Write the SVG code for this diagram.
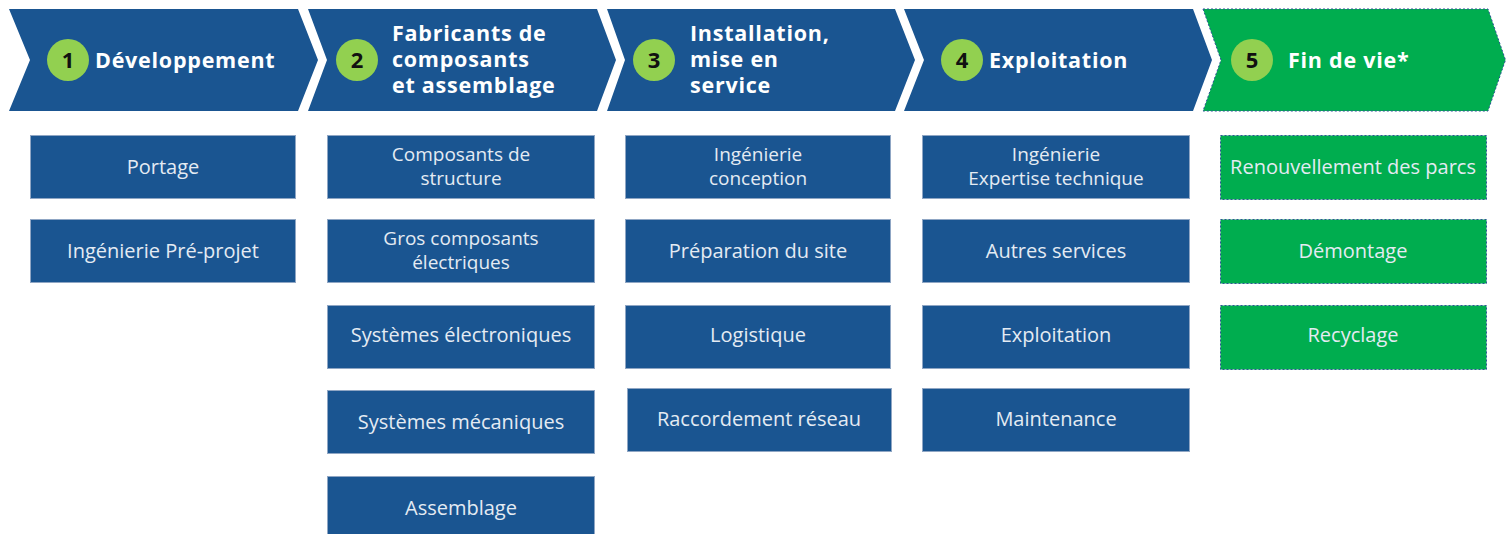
<svg xmlns="http://www.w3.org/2000/svg" width="1506" height="534" viewBox="0 0 1506 534">
<style>
.chev{fill:#1a5591}
.chevg{fill:#00ad4f;stroke:#2f5597;stroke-width:1;stroke-dasharray:2 2}
.num{fill:#92d050}
.numt{font-family:"Open Sans",sans-serif;font-weight:bold;font-size:22px;fill:#111;text-anchor:middle}
.ht{font-family:"Open Sans",sans-serif;font-weight:bold;font-size:21.5px;fill:#ffffff;letter-spacing:0.75px}
.box{fill:#1a5591;stroke:#8fa6c4;stroke-width:1}
.boxg{fill:#00ad4f;stroke:#2f5597;stroke-width:1;stroke-dasharray:2 2}
.bt{font-family:"Open Sans",sans-serif;font-size:20px;fill:#e4ebf3;text-anchor:middle}
.bt2{font-family:"Open Sans",sans-serif;font-size:19px;fill:#e4ebf3;text-anchor:middle}
</style>
<rect width="1506" height="534" fill="#ffffff"/>
<g id="stage1">
<polygon class="chev" points="9,9 298,9 318,60 298,111 9,111 30,60"/>
<circle class="num" cx="68" cy="60" r="21"/>
<text class="numt" x="68" y="68">1</text>
<text class="ht" x="95" y="68">Développement</text>
</g>
<g id="stage2">
<polygon class="chev" points="308,9 597,9 616,60 597,111 308,111 327,60"/>
<circle class="num" cx="357" cy="60" r="21"/>
<text class="numt" x="357" y="68">2</text>
<text class="ht" x="392" y="41">Fabricants de</text>
<text class="ht" x="392" y="67">composants</text>
<text class="ht" x="392" y="93">et assemblage</text>
</g>
<g id="stage3">
<polygon class="chev" points="607,9 895,9 915,60 895,111 607,111 625,60"/>
<circle class="num" cx="654" cy="60" r="21"/>
<text class="numt" x="654" y="68">3</text>
<text class="ht" x="690" y="41">Installation,</text>
<text class="ht" x="690" y="67">mise en</text>
<text class="ht" x="690" y="93">service</text>
</g>
<g id="stage4">
<polygon class="chev" points="904,9 1193,9 1212,60 1193,111 904,111 924,60"/>
<circle class="num" cx="962" cy="60" r="21"/>
<text class="numt" x="962" y="68">4</text>
<text class="ht" x="989" y="68">Exploitation</text>
</g>
<g id="stage5">
<polygon class="chevg" points="1203,9 1488,9 1505.5,60 1488,111 1203,111 1221,60"/>
<circle class="num" cx="1252" cy="60" r="21"/>
<text class="numt" x="1252" y="68">5</text>
<text class="ht" x="1288" y="68">Fin de vie*</text>
</g>
<g id="col1">
<g id="portage"><rect class="box" x="30.5" y="135.5" width="265" height="63"/><text class="bt" x="163" y="174">Portage</text></g>
<g id="ingenierie-pre-projet"><rect class="box" x="30.5" y="219.5" width="265" height="63"/><text class="bt" x="163" y="258">Ingénierie Pré-projet</text></g>
</g>
<g id="col2">
<g id="composants-structure"><rect class="box" x="327.5" y="135.5" width="267" height="63"/><text class="bt2" x="461" y="161">Composants de</text><text class="bt2" x="461" y="185">structure</text></g>
<g id="gros-composants"><rect class="box" x="327.5" y="219.5" width="267" height="63"/><text class="bt2" x="461" y="245">Gros composants</text><text class="bt2" x="461" y="269">électriques</text></g>
<g id="systemes-electroniques"><rect class="box" x="327.5" y="305.5" width="267" height="63"/><text class="bt" x="461" y="342">Systèmes électroniques</text></g>
<g id="systemes-mecaniques"><rect class="box" x="327.5" y="390.5" width="267" height="63"/><text class="bt" x="461" y="429">Systèmes mécaniques</text></g>
<g id="assemblage"><rect class="box" x="327.5" y="476.5" width="267" height="63"/><text class="bt" x="461" y="515">Assemblage</text></g>
</g>
<g id="col3">
<g id="ingenierie-conception"><rect class="box" x="625.5" y="135.5" width="265" height="63"/><text class="bt2" x="758" y="161">Ingénierie</text><text class="bt2" x="758" y="185">conception</text></g>
<g id="preparation-site"><rect class="box" x="625.5" y="219.5" width="265" height="63"/><text class="bt" x="758" y="258">Préparation du site</text></g>
<g id="logistique"><rect class="box" x="625.5" y="305.5" width="265" height="63"/><text class="bt" x="758" y="342">Logistique</text></g>
<g id="raccordement"><rect class="box" x="627.5" y="388.5" width="264" height="63"/><text class="bt" x="759" y="426">Raccordement réseau</text></g>
</g>
<g id="col4">
<g id="ingenierie-expertise"><rect class="box" x="922.5" y="135.5" width="267" height="63"/><text class="bt2" x="1056" y="161">Ingénierie</text><text class="bt2" x="1056" y="185">Expertise technique</text></g>
<g id="autres-services"><rect class="box" x="922.5" y="219.5" width="267" height="63"/><text class="bt" x="1056" y="258">Autres services</text></g>
<g id="exploitation"><rect class="box" x="922.5" y="305.5" width="267" height="63"/><text class="bt" x="1056" y="342">Exploitation</text></g>
<g id="maintenance"><rect class="box" x="922.5" y="388.5" width="267" height="63"/><text class="bt" x="1056" y="426">Maintenance</text></g>
</g>
<g id="col5">
<g id="renouvellement"><rect class="boxg" x="1220.5" y="135.5" width="266" height="64"/><text class="bt" x="1353" y="174">Renouvellement des parcs</text></g>
<g id="demontage"><rect class="boxg" x="1220.5" y="219.5" width="266" height="64"/><text class="bt" x="1353" y="258">Démontage</text></g>
<g id="recyclage"><rect class="boxg" x="1220.5" y="305.5" width="266" height="64"/><text class="bt" x="1353" y="342">Recyclage</text></g>
</g>
<g id="connectors"></g>
</svg>
